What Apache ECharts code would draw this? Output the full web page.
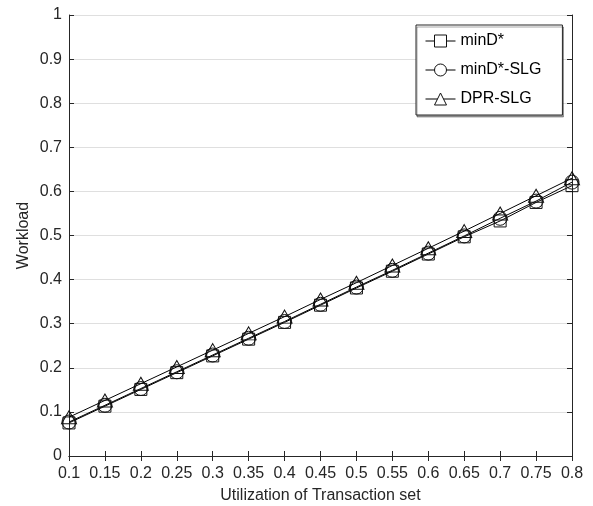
<!DOCTYPE html>
<html>
<head>
<meta charset="utf-8">
<script src="https://cdn.jsdelivr.net/npm/echarts@6/dist/echarts.min.js"></script>
<style>
  html, body { margin: 0; padding: 0; background: #fff; }
  #chart { width: 593px; height: 506px; }
</style>
</head>
<body>
<div id="chart"></div>
<script>
// Utilization values on the x axis
const utilization = [0.1, 0.15, 0.2, 0.25, 0.3, 0.35, 0.4, 0.45, 0.5, 0.55, 0.6, 0.65, 0.7, 0.75, 0.8];

// Workload per method
const minD = [0.075, 0.113, 0.151, 0.189, 0.227, 0.265, 0.303, 0.342, 0.381, 0.419, 0.458, 0.497, 0.533, 0.575, 0.613];
const minDSLG = [0.077, 0.115, 0.153, 0.191, 0.229, 0.267, 0.305, 0.344, 0.383, 0.421, 0.460, 0.499, 0.539, 0.578, 0.621];
const dprSLG = [0.088, 0.126, 0.164, 0.202, 0.240, 0.278, 0.316, 0.355, 0.393, 0.432, 0.471, 0.510, 0.550, 0.590, 0.630];

const seriesNames = ['minD*', 'minD*-SLG', 'DPR-SLG'];
const seriesValues = [minD, minDSLG, dprSLG];
const seriesSymbols = ['rect', 'circle', 'triangle'];

const fontFamily = 'Liberation Sans, Arial, sans-serif';
const axisColor = '#262626';
const fmt = v => String(+(+v).toFixed(2));

const chart = echarts.init(document.getElementById('chart'), null, { renderer: 'canvas' });

const baseX = {
  type: 'value', min: 0.1, max: 0.8, interval: 0.05,
  axisLine: { show: true, lineStyle: { color: axisColor, width: 1 } },
  axisTick: { show: true, inside: true, length: 5, lineStyle: { color: axisColor } },
  splitLine: { show: false }
};
const baseY = {
  type: 'value', min: 0, max: 1, interval: 0.1,
  axisLine: { show: true, lineStyle: { color: axisColor, width: 1 } },
  axisTick: { show: true, inside: true, length: 5, lineStyle: { color: axisColor } }
};

chart.setOption({
  animation: false,
  backgroundColor: '#fff',
  grid: { left: 69, top: 15, right: 21, bottom: 50, containLabel: false, outerBoundsMode: 'none' },
  legend: {
    data: seriesNames,
    orient: 'vertical',
    left: 416, top: 25,
    padding: [8, 21, 8, 9],
    itemGap: 13,
    itemWidth: 30, itemHeight: 15,
    backgroundColor: '#fff',
    borderColor: axisColor, borderWidth: 1, borderRadius: 0,
    shadowColor: 'rgba(0,0,0,0.35)', shadowBlur: 0, shadowOffsetX: 1, shadowOffsetY: 2,
    lineStyle: { width: 1, color: '#000' },
    itemStyle: { borderWidth: 1, borderColor: '#111', color: '#fff' },
    textStyle: { fontFamily, fontSize: 16, color: '#000' }
  },
  xAxis: [
    Object.assign({}, baseX, {
      position: 'bottom',
      name: 'Utilization of Transaction set',
      nameLocation: 'middle', nameGap: 32, nameMoveOverlap: false,
      nameTextStyle: { fontFamily, fontSize: 16, color: axisColor },
      axisLabel: { fontFamily, fontSize: 16, color: axisColor, margin: 10, formatter: fmt }
    }),
    Object.assign({}, baseX, { position: 'top', axisLabel: { show: false } })
  ],
  yAxis: [
    Object.assign({}, baseY, {
      position: 'left',
      name: 'Workload',
      nameLocation: 'middle', nameGap: 37, nameMoveOverlap: false,
      nameTextStyle: { fontFamily, fontSize: 16, color: axisColor },
      axisLabel: { fontFamily, fontSize: 16, color: axisColor, margin: 7, formatter: fmt },
      splitLine: { show: true, lineStyle: { color: '#dfdfdf', width: 1 } }
    }),
    Object.assign({}, baseY, { position: 'right', axisLabel: { show: false }, splitLine: { show: false } })
  ],
  series: seriesNames.map((name, i) => ({
    name,
    type: 'line',
    data: utilization.map((u, j) => [u, seriesValues[i][j]]),
    symbol: seriesSymbols[i],
    symbolSize: seriesSymbols[i] === 'triangle' ? [15, 13] : (seriesSymbols[i] === 'rect' ? 12 : 14),
    showAllSymbol: true,
    clip: false,
    lineStyle: { color: '#000', width: 1 },
    itemStyle: { color: 'rgba(0,0,0,0)', borderColor: '#111', borderWidth: 1 },
    emphasis: { disabled: true },
    z: 2 + i
  }))
});
</script>
</body>
</html>
